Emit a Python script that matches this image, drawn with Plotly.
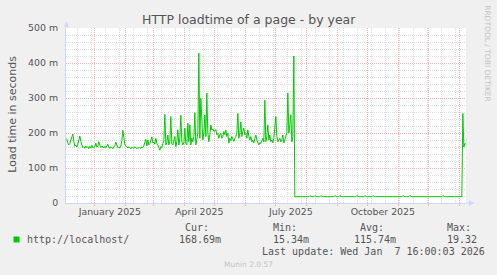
import pandas as pd
import plotly.graph_objects as go

# ---------------- data (HTTP load time, milliseconds, one daily value) ----------------
series_start = "2024-12-03 12:00"
dec_2024 = [185, 182, 172, 166, 170, 178, 190, 197, 176, 162, 165, 160, 168, 180, 191,
            176, 162, 158, 161, 156, 163, 158, 161, 155, 162, 157, 165, 158, 160]
jan_2025 = [160, 171, 160, 163, 175, 165, 158, 163, 159, 157, 162, 158, 163, 168, 160, 156,
            161, 158, 155, 160, 164, 174, 162, 158, 160, 157, 163, 178, 208, 182, 166]
feb_2025 = [164, 160, 157, 161, 158, 155, 160, 158, 156, 161, 158, 155, 159, 157, 158, 156,
            160, 158, 164, 175, 182, 163, 180, 166, 170, 178, 189, 172]
mar_2025 = [175, 168, 185, 170, 166, 158, 151, 161, 158, 170, 178, 253, 166, 172, 194, 166,
            175, 247, 170, 166, 180, 190, 161, 175, 209, 166, 185, 251, 175, 166, 172]
apr_2025 = [214, 170, 166, 228, 175, 223, 166, 185, 175, 190, 258, 166, 180, 200, 428, 185,
            299, 204, 180, 200, 252, 190, 314, 200, 175, 195, 223, 209, 212, 205]
may_2025 = [205, 210, 195, 199, 185, 195, 199, 185, 190, 204, 195, 209, 190, 199, 171, 185,
            178, 190, 180, 176, 185, 190, 200, 256, 185, 200, 232, 190, 204, 214, 195]
jun_2025 = [199, 185, 209, 190, 180, 190, 175, 180, 172, 185, 194, 180, 175, 166, 172, 170,
            178, 185, 175, 294, 175, 190, 223, 180, 194, 175, 180, 172, 185, 214]
jul_2025 = [247, 190, 175, 180, 185, 175, 180, 194, 172, 180, 194, 200, 314, 200, 223, 252,
            175, 190, 420, 17, 18, 18, 18, 17, 18, 18, 18, 18, 17, 18, 18]
aug_2025 = [18, 18, 18, 21, 18, 18, 18, 18, 21, 18, 18, 18, 18, 18, 21, 18,
            18, 18, 18, 18, 18, 18, 17, 18, 18, 18, 18, 18, 21, 18, 18]
sep_2025 = [18, 18, 21, 18, 18, 18, 18, 18, 18, 18, 18, 17, 18, 18, 18,
            18, 18, 18, 18, 21, 18, 18, 18, 18, 18, 18, 18, 21, 18, 18]
oct_2025 = [18, 18, 18, 18, 18, 21, 18, 18, 18, 18, 18, 18, 18, 18, 18, 18,
            18, 18, 17, 18, 18, 18, 18, 18, 18, 18, 18, 18, 18, 18, 18]
nov_2025 = [18, 18, 18, 18, 21, 18, 18, 18, 18, 18, 18, 21, 18, 18, 18,
            18, 18, 18, 18, 18, 18, 18, 18, 18, 18, 18, 18, 18, 18, 18]
dec_2025 = [18, 18, 18, 18, 18, 18, 18, 18, 18, 18, 18, 18, 18, 18, 21, 18,
            18, 18, 18, 18, 18, 18, 18, 18, 18, 18, 18, 18, 18, 18, 18]
jan_2026 = [18, 18, 18, 256, 160, 170, 168.69]

y_tick_values = [0, 100, 200, 300, 400, 500]
y_tick_labels = ["0", "100 m", "200 m", "300 m", "400 m", "500 m"]
x_label_dates = ["2025-01-16 12:00", "2025-04-16 00:00", "2025-07-16 12:00", "2025-10-16 12:00"]
x_label_texts = ["January 2025", "April 2025", "July 2025", "October 2025"]
x_range = ["2024-12-03 16:00", "2026-01-07 16:00"]

legend_label = "http://localhost/"
stat_names = ["Cur:", "Min:", "Avg:", "Max:"]
stat_values = ["168.69m", "15.34m", "115.74m", "19.32"]
last_update = "Last update: Wed Jan \u00a07 16:00:03 2026"

values = (dec_2024 + jan_2025 + feb_2025 + mar_2025 + apr_2025 + may_2025 + jun_2025
          + jul_2025 + aug_2025 + sep_2025 + oct_2025 + nov_2025 + dec_2025 + jan_2026)
dates = pd.date_range(series_start, periods=len(values), freq="D")

# ---------------- layout helpers ----------------
W, H = 497, 275
L, R, T, B = 66, 31, 28, 72
PW, PH = W - L - R, H - T - B


def px(x):
    return (x - L) / PW


def py(y):
    return (H - B - y) / PH


FONT = "DejaVu Sans"
MONO = "DejaVu Sans Mono"
TXT = "#555555"
MGRID = "#f2b6b6"
GRID = "#dedede"
AXIS = "#CFD6F8"

month_starts = pd.date_range("2025-01-01", "2026-01-01", freq="MS")
biweekly = pd.date_range("2024-12-15", "2026-01-07", freq="14D")

fig = go.Figure()
fig.add_trace(go.Scatter(x=dates, y=values, mode="lines",
                         line=dict(color="#00CC00", width=1),
                         hoverinfo="skip", showlegend=False))

fig.update_layout(
    width=W, height=H, autosize=False,
    margin=dict(l=L, r=R, t=T, b=B, pad=0),
    paper_bgcolor="#F0F0F0", plot_bgcolor="#FFFFFF",
    font=dict(family=FONT, color=TXT),
    xaxis=dict(type="date", range=x_range, tickmode="array",
               tickvals=list(month_starts), ticktext=[""] * len(month_starts),
               showgrid=True, gridcolor=MGRID, griddash="1px,1px", gridwidth=1,
               ticks="outside", ticklen=2, tickcolor=MGRID,
               minor=dict(tickvals=list(biweekly), showgrid=True, gridcolor=GRID,
                          griddash="1px,1px", ticks=""),
               showline=True, linecolor=AXIS, linewidth=1, zeroline=False,
               fixedrange=True),
    xaxis2=dict(type="date", range=x_range, overlaying="x", anchor="y", side="bottom",
                tickmode="array", tickvals=x_label_dates, ticktext=x_label_texts,
                showgrid=False, ticks="", showline=False, zeroline=False,
                tickfont=dict(family=FONT, size=9.4, color=TXT),
                ticklabelstandoff=2, fixedrange=True),
    yaxis=dict(range=[0, 500], tickmode="array", tickvals=y_tick_values,
               ticktext=y_tick_labels, showgrid=True, gridcolor=MGRID,
               griddash="1px,1px", gridwidth=1,
               minor=dict(dtick=20, showgrid=True, gridcolor=GRID, griddash="1px,1px"),
               ticks="", ticklabelstandoff=5,
               tickfont=dict(family=FONT, size=9.4, color=TXT),
               showline=True, linecolor=AXIS, linewidth=1, zeroline=False,
               fixedrange=True),
)
# invisible trace to activate xaxis2
fig.add_trace(go.Scatter(x=[dates[0]], y=[None], xaxis="x2", showlegend=False,
                         hoverinfo="skip"))

ann = []


def add_text(text, x, y, size, family=FONT, color=TXT, xanchor="left", angle=0):
    ann.append(dict(text=text, x=px(x), y=py(y), xref="paper", yref="paper",
                    xanchor=xanchor, yanchor="middle", showarrow=False,
                    borderpad=0, borderwidth=0, textangle=angle,
                    font=dict(family=family, size=size, color=color)))


add_text("HTTP loadtime of a page - by year", 248.8, 19, 12.5, xanchor="center")
add_text("Load time in seconds", 11.7, 114, 11, xanchor="center", angle=-90)
add_text("RRDTOOL / TOBI OETIKER", 487.5, 53.7, 7.5, color="#c4c4c4",
         xanchor="center", angle=90)
add_text("Munin 2.0.57", 248, 264, 7.5, color="#c4c4c4", xanchor="center")

add_text(legend_label, 26.7, 239.5, 10, family=MONO)
name_x = [185, 272.7, 360, 446.7]
val_x = [179.3, 273.3, 354.3, 447.3]
for n, xn, v, xv in zip(stat_names, name_x, stat_values, val_x):
    add_text(n, xn, 227.7, 10, family=MONO)
    add_text(v, xv, 239.5, 10, family=MONO)
add_text(last_update, 261.7, 251, 10, family=MONO)

fig.update_layout(annotations=ann)

shapes = [
    # legend colour box
    dict(type="rect", xref="paper", yref="paper", x0=px(13.5), x1=px(19.5),
         y0=py(242.5), y1=py(236.5), fillcolor="#00CC00", line=dict(width=0)),
    # axis extensions and arrows
    dict(type="line", xref="paper", yref="paper", x0=px(66.5), x1=px(66.5),
         y0=py(28), y1=py(24), line=dict(color=AXIS, width=1)),
    dict(type="path", xref="paper", yref="paper",
         path=f"M {px(63.8)},{py(27)} L {px(66.5)},{py(21.5)} L {px(69.2)},{py(27)} Z",
         fillcolor=AXIS, line=dict(width=0)),
    dict(type="line", xref="paper", yref="paper", x0=px(466), x1=px(470),
         y0=py(203), y1=py(203), line=dict(color=AXIS, width=1)),
    dict(type="path", xref="paper", yref="paper",
         path=f"M {px(469)},{py(200.3)} L {px(474.5)},{py(203)} L {px(469)},{py(205.7)} Z",
         fillcolor=AXIS, line=dict(width=0)),
]
fig.update_layout(shapes=shapes)

fig.write_html("out.html", config={"displayModeBar": False})
